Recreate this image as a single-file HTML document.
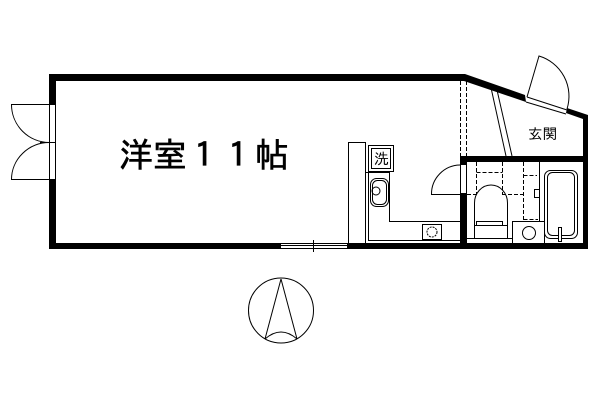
<!DOCTYPE html>
<html><head><meta charset="utf-8"><style>
html,body{margin:0;padding:0;background:#fff;width:600px;height:400px;overflow:hidden}
svg{display:block}
text{font-family:"IPAGothic","WenQuanYi Zen Hei","Noto Sans CJK JP",sans-serif;fill:#000}
.c{shape-rendering:crispEdges}
</style></head><body>
<svg width="600" height="400" viewBox="0 0 600 400" xmlns="http://www.w3.org/2000/svg">
<rect width="600" height="400" fill="#fff"/>
<g fill="#000">
<path d="M49 74H465L525 95L526 102L464 81H56V104H49Z"/>
<rect x="49" y="180" width="7" height="69"/>
<rect x="49" y="243" width="232" height="6"/>
<rect x="347" y="243" width="120" height="6"/>
<path d="M567 108L588 115V162H460V156H583V119L566 113Z"/>
<rect x="460" y="156" width="7" height="93"/>
<rect x="460" y="243" width="128" height="6"/>
<rect x="583" y="158" width="5" height="91"/>
</g>
<rect x="461" y="165" width="5" height="28" fill="#fff"/>
<g fill="none" stroke="#000" stroke-width="1">
<!-- balcony doors -->
<rect x="49.500" y="104.500" width="6" height="75"/>
<path d="M40 142.500H56"/>
<path d="M49.500 104.500H11.500A38 38 0 0 0 49.500 142.500M49.500 179.500H11.500A38 37 0 0 1 49.500 142.500"/>
<!-- window -->
<path d="M281 243.500H347M281 245.500H347M281 248.500H347"/>
<path d="M313.500 240V252"/>
<!-- north -->
<circle cx="281" cy="310.500" r="32.500"/>
<path d="M281 279L265 339M281 279L297 339M265 339Q281 325 297 339"/>
<!-- entrance door -->
<path d="M527 97L567 110M526 102L566 114"/>
<path d="M527 97L539 56A42 42 0 0 1 567 109"/>
<!-- diagonal -->
<path d="M491.500 90L506 156M497 90L512 156"/>
<!-- dashed closet -->
<path stroke-dasharray="4 2" d="M460.500 81V156M466.500 81V156"/>
<!-- kitchen -->
<rect x="348.500" y="142.500" width="17" height="101"/>
<path d="M365 172.500H389.500V221.500H460M368.500 172V240.500H460"/>
<rect x="368.500" y="145.500" width="25" height="26"/>
<rect x="371.500" y="148.500" width="19" height="20"/>
<rect x="370.500" y="178.500" width="18" height="28" rx="6"/>
<rect x="372.500" y="180.500" width="14" height="24" rx="5"/>
<circle cx="376" cy="191" r="4"/>
<rect x="422.500" y="224.500" width="19" height="15"/>
<circle cx="432" cy="232" r="5" stroke-dasharray="2 1"/>
<!-- door to bath -->
<path d="M460 194.500H431.500A29 29 0 0 1 460 165"/>
<!-- bath dashed -->
<path stroke-dasharray="4 2" d="M476.500 162V195M502.500 162V195M476.500 172.500H502.500M467 194.500H476M502 194.500H523M523.500 162V220M523.500 175.500H537M523.500 219.500H538"/>
<path d="M539.500 162V243"/>
<rect x="534.500" y="189.500" width="5" height="8" fill="#fff"/>
<!-- toilet -->
<path d="M474.500 228V203A16.500 18 0 0 1 507.500 203V228"/>
<rect x="474.500" y="225.500" width="33" height="13"/>
<rect x="476.500" y="221.500" width="26" height="4"/>
<path d="M467 238.500H512"/>
<!-- wash basin -->
<rect x="512.500" y="221.500" width="32" height="22" fill="#fff"/>
<circle cx="529" cy="233" r="6.500"/>
<!-- bath -->
<rect x="544.500" y="170.500" width="33" height="68" rx="6"/>
<rect x="547.500" y="172.500" width="27" height="63" rx="5"/>
<rect x="558.500" y="227.500" width="3" height="14" fill="#fff"/>
</g>
<text x="119" y="167" font-size="34" stroke="#000" stroke-width="0.6">洋室１１帖</text>
<text x="528" y="139" font-size="14.500">玄関</text>
<text x="374" y="164" font-size="15">洗</text>
</svg>
</body></html>
